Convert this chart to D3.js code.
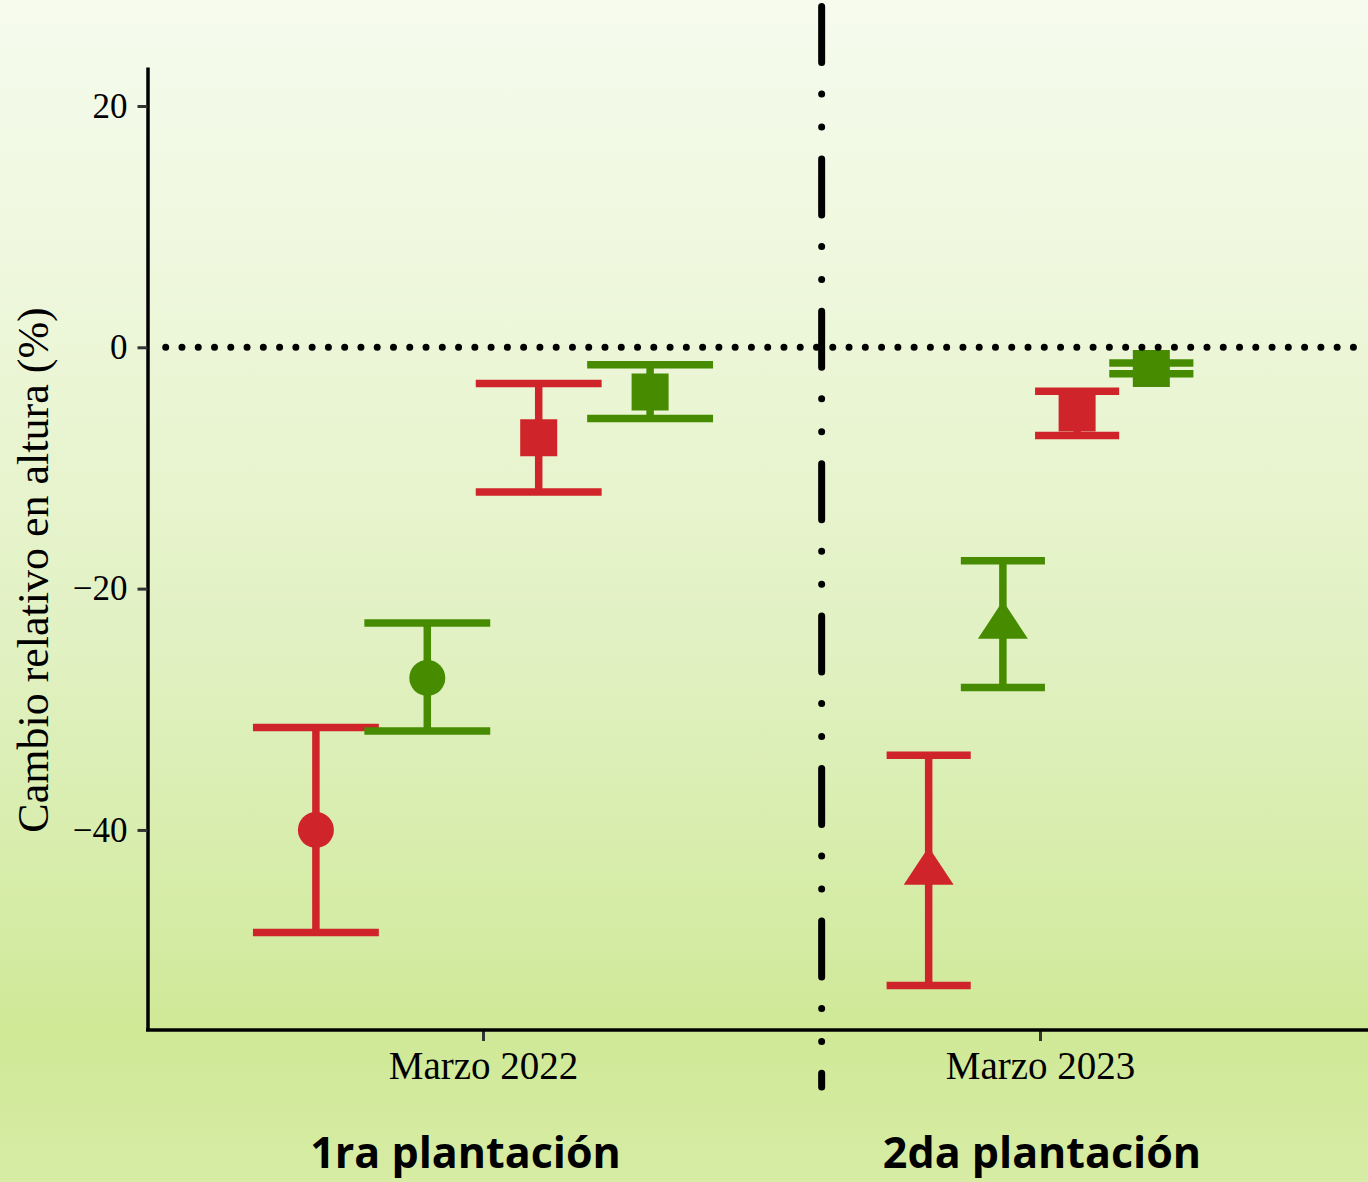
<!DOCTYPE html>
<html>
<head>
<meta charset="utf-8">
<script src="https://cdn.jsdelivr.net/npm/d3@7"></script>
<style>
  html, body { margin: 0; padding: 0; }
  svg { display: block; }
</style>
</head>
<body>
<div id="chart"></div>
<script>
// ---------- data ----------
const periods   = ["Marzo 2022", "Marzo 2023"];
const plantings = ["1ra plantación", "2da plantación"];
const groupColorKeys = ["red", "green", "red", "green"];
const shapes2022 = ["circle", "circle", "square", "square"];
const shapes2023 = ["triangle", "triangle", "square", "square"];

const mean2022 = [-40.0, -27.4, -7.5, -3.7];
const low2022  = [-48.5, -31.8, -12.0, -5.9];
const high2022 = [-31.5, -22.85, -3.0, -1.45];

const mean2023 = [-43.5, -23.1, -5.45, -1.75];
const low2023  = [-52.9, -28.2, -7.3, -2.2];
const high2023 = [-33.8, -17.7, -3.65, -1.3];

const yTicks = [20, 0, -20, -40];
const yTickLabels = ["20", "0", "\u221220", "\u221240"];
const yTitle = "Cambio relativo en altura (%)";

// ---------- layout ----------
const W = 1368, H = 1182;
const colors = { red: "#cf252a", green: "#468b00" };
const dodgeWidth = [0.8, 0.533];
const capWidth = [0.226, 0.151];
const dividerAt = 1.608;

const svg = d3.select("#chart").append("svg").attr("width", W).attr("height", H);

const defs = svg.append("defs");
const grad = defs.append("linearGradient").attr("id", "bg").attr("x1", 0).attr("y1", 0).attr("x2", 0).attr("y2", 1);
[[0, "#f6fbee"], [0.3, "#ecf6d7"], [0.55, "#e1f1c2"], [0.8, "#d3eba2"], [0.87, "#cfe997"], [1, "#d7eca4"]]
  .forEach(([o, c]) => grad.append("stop").attr("offset", o).attr("stop-color", c));
svg.append("rect").attr("width", W).attr("height", H).attr("fill", "url(#bg)");

const x = d3.scaleLinear().domain([1, 2]).range([483, 1040]);
const y = d3.scaleLinear().domain([-56.58, 23.23]).range([1030, 67]);

// y axis
const yAxis = d3.axisLeft(y).tickValues(yTicks).tickFormat((d, i) => yTickLabels[i])
  .tickSizeOuter(0).tickSizeInner(10).tickPadding(10);
const gy = svg.append("g").attr("transform", "translate(147.5,0)").call(yAxis);
gy.select(".domain").attr("stroke", "#000").attr("stroke-width", 3.5);
gy.selectAll(".tick line").attr("stroke", "#333").attr("stroke-width", 3);
gy.selectAll(".tick text").attr("font-family", "'Liberation Serif', serif").attr("font-size", 35).attr("fill", "#000");

// x axis
const xAxis = d3.axisBottom(x).tickValues([1, 2]).tickFormat((d) => periods[d - 1])
  .tickSizeOuter(0).tickSizeInner(11).tickPadding(10);
const gx = svg.append("g").attr("transform", `translate(0,${y.range()[0]})`).call(xAxis);
gx.select(".domain").remove();
gx.selectAll(".tick line").attr("stroke", "#333").attr("stroke-width", 3);
gx.selectAll(".tick text").attr("font-family", "'Liberation Serif', serif").attr("font-size", 39).attr("fill", "#000")
  .attr("dy", "0").attr("y", 49);
svg.append("line").attr("x1", 146).attr("x2", W).attr("y1", y.range()[0]).attr("y2", y.range()[0])
  .attr("stroke", "#000").attr("stroke-width", 3.5);

// y title
svg.append("text").attr("transform", "translate(48,570) rotate(-90)")
  .attr("text-anchor", "middle").attr("font-family", "'Liberation Serif', serif")
  .attr("font-size", 44).attr("fill", "#000").text(yTitle);

// custom triangle (wider than equilateral, as in reference)
const triangleType = {
  draw(ctx, size) {
    const h = Math.sqrt(size) * 0.86, w = h * 1.32;
    ctx.moveTo(0, -2 * h / 3);
    ctx.lineTo(w / 2, h / 3);
    ctx.lineTo(-w / 2, h / 3);
    ctx.closePath();
  }
};
const shapeGen = {
  circle: d3.symbol().type(d3.symbolCircle).size(Math.PI * 18 * 18),
  square: d3.symbol().type(d3.symbolSquare).size(37 * 37),
  triangle: d3.symbol().type(triangleType).size(44 * 44)
};

const sets = [
  { mean: mean2022, low: low2022, high: high2022, shapes: shapes2022 },
  { mean: mean2023, low: low2023, high: high2023, shapes: shapes2023 }
];

sets.forEach((s, p) => {
  const inner = d3.scaleBand().domain(d3.range(s.mean.length))
    .range([-dodgeWidth[p] / 2, dodgeWidth[p] / 2]);
  const g = svg.append("g");
  s.mean.forEach((m, i) => {
    const cxv = p + 1 + inner(i) + inner.bandwidth() / 2;
    const cx = x(cxv);
    const col = colors[groupColorKeys[i]];
    const hw = (x(cxv + capWidth[p] / 2) - cx);
    g.append("line").attr("x1", cx).attr("x2", cx).attr("y1", y(s.low[i])).attr("y2", y(s.high[i]))
      .attr("stroke", col).attr("stroke-width", 7.5);
    [s.low[i], s.high[i]].forEach(v => {
      g.append("line").attr("x1", cx - hw).attr("x2", cx + hw).attr("y1", y(v)).attr("y2", y(v))
        .attr("stroke", col).attr("stroke-width", 7.5);
    });
    g.append("path").attr("d", shapeGen[s.shapes[i]]()).attr("transform", `translate(${cx},${y(m)})`)
      .attr("fill", col);
  });
});

// zero reference line (dotted)
svg.append("line").attr("x1", 165.7).attr("x2", W).attr("y1", y(0)).attr("y2", y(0))
  .attr("stroke", "#000").attr("stroke-width", 7).attr("stroke-linecap", "round")
  .attr("stroke-dasharray", "0 16.27");

// divider (dash-dot-dot)
svg.append("line").attr("x1", x(dividerAt)).attr("x2", x(dividerAt)).attr("y1", 6.5).attr("y2", 1087)
  .attr("stroke", "#000").attr("stroke-width", 7).attr("stroke-linecap", "round")
  .attr("stroke-dasharray", "56 31.5 0 33 0 31.9");

// planting labels
const plantX = [465.5, 1042];
plantings.forEach((t, i) => {
  svg.append("text").attr("x", plantX[i]).attr("y", 1168).attr("text-anchor", "middle")
    .attr("font-family", "'Open Sans', sans-serif").attr("font-weight", 700).attr("font-size", 43)
    .attr("fill", "#000").text(t);
});
</script>
</body>
</html>
